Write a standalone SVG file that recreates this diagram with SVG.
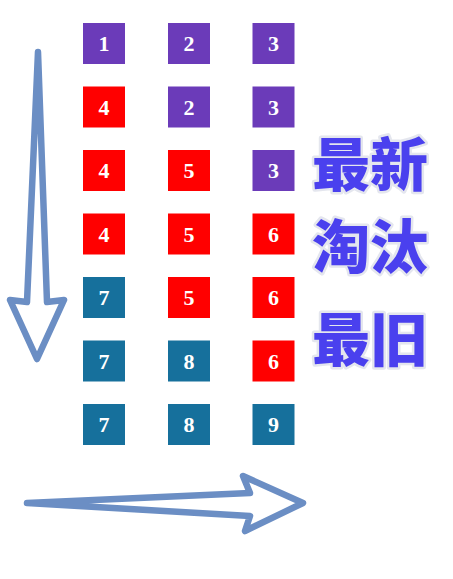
<svg xmlns="http://www.w3.org/2000/svg" width="453" height="579" viewBox="0 0 453 579">
<defs>
<style>
.box{stroke:none}
.p{fill:#6B3BB9}
.r{fill:#FF0000}
.t{fill:#16709C}
.n{font-family:"Liberation Serif",serif;font-weight:bold;font-size:22px;fill:#fff;text-anchor:middle}
.arrow{fill:none;stroke:#6B8EC4;stroke-width:6.5;stroke-linejoin:round;stroke-linecap:round}
.cj{font-family:"Noto Sans CJK SC","Noto Sans CJK JP",sans-serif;font-weight:900;font-size:58px;fill:#4A40EE;stroke:#E4E6EE;stroke-width:5;paint-order:stroke;stroke-linejoin:round}
</style>
</defs>
<rect width="453" height="579" fill="#fff"/>
<g id="connectors">
<path class="arrow" d="M38,52 L27,302 L10,300 L37,359 L64,300 L47,302 Z"/>
<path class="arrow" d="M27,503 L250,493 L243,476 L303,503 L245,531 L250,516 Z"/>
</g>
<g id="r1c1"><rect class="box p" x="83" y="23" width="42" height="41"/><text class="n" x="104" y="51">1</text></g>
<g id="r1c2"><rect class="box p" x="168" y="23" width="42" height="41"/><text class="n" x="189" y="51">2</text></g>
<g id="r1c3"><rect class="box p" x="252.5" y="23" width="42" height="41"/><text class="n" x="273.5" y="51">3</text></g>
<g id="r2c1"><rect class="box r" x="83" y="86.5" width="42" height="41"/><text class="n" x="104" y="114.5">4</text></g>
<g id="r2c2"><rect class="box p" x="168" y="86.5" width="42" height="41"/><text class="n" x="189" y="114.5">2</text></g>
<g id="r2c3"><rect class="box p" x="252.5" y="86.5" width="42" height="41"/><text class="n" x="273.5" y="114.5">3</text></g>
<g id="r3c1"><rect class="box r" x="83" y="150" width="42" height="41"/><text class="n" x="104" y="178">4</text></g>
<g id="r3c2"><rect class="box r" x="168" y="150" width="42" height="41"/><text class="n" x="189" y="178">5</text></g>
<g id="r3c3"><rect class="box p" x="252.5" y="150" width="42" height="41"/><text class="n" x="273.5" y="178">3</text></g>
<g id="r4c1"><rect class="box r" x="83" y="213.5" width="42" height="41"/><text class="n" x="104" y="241.5">4</text></g>
<g id="r4c2"><rect class="box r" x="168" y="213.5" width="42" height="41"/><text class="n" x="189" y="241.5">5</text></g>
<g id="r4c3"><rect class="box r" x="252.5" y="213.5" width="42" height="41"/><text class="n" x="273.5" y="241.5">6</text></g>
<g id="r5c1"><rect class="box t" x="83" y="277" width="42" height="41"/><text class="n" x="104" y="305">7</text></g>
<g id="r5c2"><rect class="box r" x="168" y="277" width="42" height="41"/><text class="n" x="189" y="305">5</text></g>
<g id="r5c3"><rect class="box r" x="252.5" y="277" width="42" height="41"/><text class="n" x="273.5" y="305">6</text></g>
<g id="r6c1"><rect class="box t" x="83" y="340.5" width="42" height="41"/><text class="n" x="104" y="368.5">7</text></g>
<g id="r6c2"><rect class="box t" x="168" y="340.5" width="42" height="41"/><text class="n" x="189" y="368.5">8</text></g>
<g id="r6c3"><rect class="box r" x="252.5" y="340.5" width="42" height="41"/><text class="n" x="273.5" y="368.5">6</text></g>
<g id="r7c1"><rect class="box t" x="83" y="404" width="42" height="41"/><text class="n" x="104" y="432">7</text></g>
<g id="r7c2"><rect class="box t" x="168" y="404" width="42" height="41"/><text class="n" x="189" y="432">8</text></g>
<g id="r7c3"><rect class="box t" x="252.5" y="404" width="42" height="41"/><text class="n" x="273.5" y="432">9</text></g>
<g id="labels">
<text class="cj" x="312" y="186">最新</text>
<text class="cj" x="312" y="268">淘汰</text>
<text class="cj" x="312" y="361">最旧</text>
</g>
</svg>
